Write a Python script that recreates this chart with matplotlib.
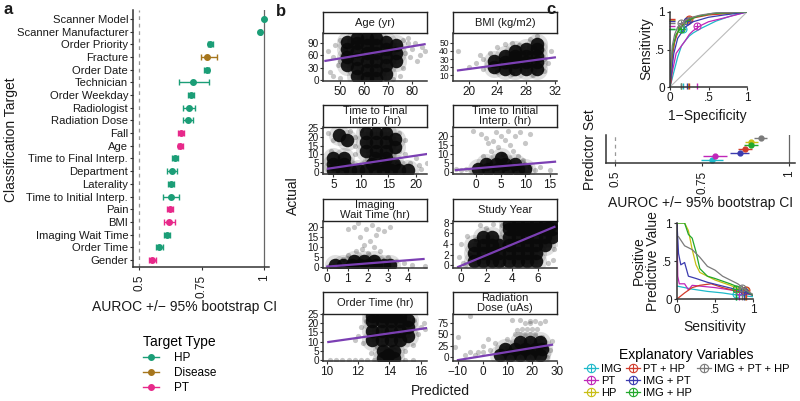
import numpy as np
import matplotlib.pyplot as plt
from matplotlib.lines import Line2D

plt.rcParams['font.family'] = ['Liberation Sans', 'DejaVu Sans']

# ================= data =================
# panel a: classification targets (top to bottom)
targets = ['Scanner Model', 'Scanner Manufacturer', 'Order Priority', 'Fracture', 'Order Date',
           'Technician', 'Order Weekday', 'Radiologist', 'Radiation Dose', 'Fall', 'Age',
           'Time to Final Interp.', 'Department', 'Laterality', 'Time to Initial Interp.',
           'Pain', 'BMI', 'Imaging Wait Time', 'Order Time', 'Gender']
target_type = ['HP', 'HP', 'HP', 'Disease', 'HP', 'HP', 'HP', 'HP', 'HP', 'PT', 'PT',
               'HP', 'HP', 'HP', 'HP', 'PT', 'PT', 'HP', 'HP', 'PT']
auroc = [1.0, 0.984, 0.784, 0.773, 0.771, 0.717, 0.707, 0.699, 0.695, 0.668, 0.665,
         0.645, 0.632, 0.627, 0.627, 0.624, 0.619, 0.612, 0.581, 0.552]
ci_low = [0.999, 0.982, 0.774, 0.746, 0.761, 0.660, 0.697, 0.675, 0.675, 0.656, 0.655,
          0.633, 0.611, 0.617, 0.596, 0.612, 0.598, 0.600, 0.568, 0.539]
ci_high = [1.0, 0.986, 0.794, 0.813, 0.781, 0.781, 0.718, 0.724, 0.717, 0.680, 0.675,
           0.657, 0.653, 0.638, 0.660, 0.636, 0.642, 0.623, 0.594, 0.566]
type_names = ['HP', 'Disease', 'PT']
type_colors = {'HP': '#1B9E77', 'Disease': '#A6761D', 'PT': '#E7298A'}

# panel b: regression facets (dense core of each cloud + scattered points)
facet_titles = ['Age (yr)', 'BMI (kg/m2)', 'Time to Final\nInterp. (hr)', 'Time to Initial\nInterp. (hr)',
                'Imaging\nWait Time (hr)', 'Study Year', 'Order Time (hr)', 'Radiation\nDose (uAs)']

age_core_x = [53, 53, 53, 53, 57, 57, 57, 57, 57, 57, 61, 61, 61, 61, 61, 61,
              65, 65, 65, 65, 65, 65, 69, 69, 69, 69, 69, 73, 73, 73]
age_core_y = [35, 55, 75, 92, 10, 30, 50, 70, 90, 102, 5, 25, 45, 65, 85, 102,
              5, 25, 45, 65, 85, 100, 15, 35, 55, 75, 92, 45, 65, 85]
age_x = [45, 46, 47, 48, 49, 50, 50, 51, 52, 76, 77, 78, 79, 80, 81, 82, 84, 85, 76, 75, 72, 78, 50, 47, 83]
age_y = [70, 20, 55, 85, 35, 95, 5, 60, 75, 95, 65, 88, 55, 75, 90, 45, 80, 70, 30, 10, 3, 100, 45, 10, 60]
age_fit_x = [44, 85]
age_fit_y = [46, 86]

bmi_core_x = [23.5, 23.5, 25, 25, 25, 26.5, 26.5, 26.5, 26.5, 28, 28, 28, 28,
              29.5, 29.5, 29.5, 29.5, 29.5]
bmi_core_y = [20, 28, 18, 26, 34, 18, 26, 34, 40, 18, 26, 34, 42, 18, 26, 34, 42, 48]
bmi_x = [18.5, 20, 21, 22, 22, 23, 24, 25, 26, 27, 28.5, 29.5, 30.5, 31, 31.5, 30.5, 29, 26, 24, 21.5]
bmi_y = [40, 20, 25, 30, 18, 38, 45, 48, 50, 47, 55, 58, 30, 25, 40, 15, 10, 12, 14, 35]
bmi_fit_x = [18.5, 32]
bmi_fit_y = [16, 32]

final_core_x = [5, 6.5, 8, 9.5, 11, 12.5, 14, 15.5, 17, 18.5, 5, 7, 12, 14, 16, 5, 7, 6, 7.5,
                11, 11, 11, 12.8, 12.8, 12.8, 14.6, 14.6, 14.6, 16.2, 16.2, 12.5, 14.5]
final_core_y = [1.5, 1.5, 1.5, 1.5, 1.5, 1.5, 1.5, 1.5, 1.5, 1.5, 4.5, 4.5, 4.5, 4.5, 4.5, 8, 8, 21, 18,
                12, 17, 22, 12, 17, 22, 12, 17, 22, 14, 19, 8, 8]
final_x = [4, 5, 8, 9, 9, 9, 17, 18, 18, 19, 20, 21, 22, 17, 4.5, 10, 16.5, 20.5]
final_y = [22, 18, 23, 20, 15, 10, 22, 18, 10, 5, 8, 2, 5, 12, 12, 24, 5, 4]
final_fit_x = [4, 22.5]
final_fit_y = [2, 10.5]

initial_core_x = [0.5, 2.5, 4.5, 6.5, 8.5, 10, 2, 4, 6, 8, 5]
initial_core_y = [1.5, 1.5, 1.5, 1.5, 1.5, 1.5, 4.5, 4.5, 4.5, 4.5, 8]
initial_x = [-4, -3, -2, -1, -0.5, 1, 2, 3, 3.5, 4, 4.5, 5, 5.5, 6, 6.5, 7, 7.5, 8, 9, 10,
             8.5, 11, 12, 13, 15, 1.5, 2.5, 9.5, 11, 2.5]
initial_y = [1.5, 1, 2, 1, 23, 21, 19, 12, 17, 22, 14, 20, 10, 18, 23, 15, 12, 20, 22, 16,
             9, 3, 1, 3, 1, 9, 6, 7, 21, 16]
initial_fit_x = [-4, 16]
initial_fit_y = [1.2, 5.8]

wait_core_x = [0.4, 0.8, 1.2, 1.6, 2.0, 2.4, 2.8, 3.1, 1.3, 1.8, 2.3]
wait_core_y = [0.8, 0.8, 0.8, 0.8, 0.8, 0.8, 0.8, 0.8, 3, 3, 3]
wait_x = [1, 1.3, 1.5, 1.9, 2.2, 2.5, 2.8, 3.1, 1.6, 2.1, 2.3, 1.8, 2.6, 1.4, 1, 0.8, 3, 3.4,
          3.8, 4.2, 4.8, 0.1, 2, 1.7, 2.4]
wait_y = [19, 20, 22, 19, 21, 19, 18, 20, 15, 13, 10, 11, 8, 8, 6, 4, 5, 3, 2, 1, 0.5, 0.5, 7, 9, 16]
wait_fit_x = [0, 4.75]
wait_fit_y = [0, 3.8]

year_core_x = [1.0, 1.0, 1.0, 1.7, 1.7, 1.7, 1.7, 2.4, 2.4, 2.4, 2.4, 3.0, 3.0, 3.0,
               3.8, 3.8, 3.8, 3.8, 3.8, 3.8, 4.5, 4.5, 4.5, 4.5, 4.5, 4.5,
               5.2, 5.2, 5.2, 5.2, 5.2, 5.2, 5.9, 5.9, 5.9, 5.9, 5.9, 5.9,
               6.6, 6.6, 6.6, 6.6, 7.1, 7.1, 7.1]
year_core_y = [0.8, 2.3, 3.8, 0.8, 2.3, 3.8, 5.3, 0.8, 2.3, 3.8, 5.3, 0.8, 2.3, 3.8,
               0.8, 2.3, 3.8, 5.3, 6.8, 7.8, 0.8, 2.3, 3.8, 5.3, 6.8, 7.8,
               0.8, 2.3, 3.8, 5.3, 6.8, 7.8, 0.8, 2.3, 3.8, 5.3, 6.8, 7.8,
               3.8, 5.3, 6.8, 7.8, 5.3, 6.8, 7.8]
year_x = [-0.1, 0, 0.3, 0.5, 0.7, 1.2, 1.5, 2, 2.5, 3.2, 3.4, 3.3, 7.3, 7.2, 6.8, 0.2]
year_y = [1.5, 4, 0, 5.5, 2, 5, 7.5, 7, 7.8, 7.5, 4, 0, 3, 1, 0.5, 0.5]
year_fit_x = [-0.2, 7.3]
year_fit_y = [-0.3, 7.2]

order_core_x = [12.9, 12.9, 12.9, 12.9, 13.5, 13.5, 13.5, 13.5, 14.1, 14.1, 14.1, 14.1,
                14.7, 14.7, 14.7, 14.7, 15.2, 15.2, 15.2, 13.6, 14.3, 13.6, 14.3, 13.9]
order_core_y = [11, 16, 21, 24, 11, 16, 21, 24, 11, 16, 21, 24, 11, 16, 21, 24, 13, 18, 22, 1, 1, 5, 5, 3]
order_x = [10.2, 10.6, 11, 11.4, 11.8, 12.2, 12.6, 13, 15, 15.5, 12, 12.2, 12.3, 11.8, 15.6,
           15.8, 16, 16.3, 15.5, 15, 12.8, 13.2, 12.5, 16.2]
order_y = [0, 0, 0, 0, 0, 0, 0, 0, 0, 0, 13, 18, 9, 11, 22, 14, 18, 17, 8, 5, 4, 7, 21, 20]
order_fit_x = [10.1, 16.5]
order_fit_y = [9.8, 17.5]

dose_core_x = [7, 11, 15, 19, 23, 9, 13, 17, 21, 24, 15, 19, 23]
dose_core_y = [4, 4, 4, 4, 4, 18, 18, 18, 18, 18, 32, 32, 32]
dose_x = [13, 15, 17, 19, 21, 16, 18, 20, 22, 17, 19, 21, 19, 23, 14, 10, 5, 3, 0, -3, -5, -7,
          -10, -11, -5, 25, 27, 28, 26, 24, 12, 15, 25, 2, 0, -2]
dose_y = [50, 50, 50, 50, 50, 62, 62, 62, 62, 75, 75, 80, 80, 75, 60, 40, 30, 15, 10, 5, 10, 5,
          45, 22, 90, 25, 15, 35, 0, 45, 82, 82, 80, 40, 25, 12]
dose_fit_x = [-10, 28]
dose_fit_y = [-7, 27]

facet_core = [(age_core_x, age_core_y), (bmi_core_x, bmi_core_y), (final_core_x, final_core_y),
              (initial_core_x, initial_core_y), (wait_core_x, wait_core_y), (year_core_x, year_core_y),
              (order_core_x, order_core_y), (dose_core_x, dose_core_y)]
facet_pts = [(age_x, age_y), (bmi_x, bmi_y), (final_x, final_y), (initial_x, initial_y),
             (wait_x, wait_y), (year_x, year_y), (order_x, order_y), (dose_x, dose_y)]
facet_fit = [(age_fit_x, age_fit_y), (bmi_fit_x, bmi_fit_y), (final_fit_x, final_fit_y),
             (initial_fit_x, initial_fit_y), (wait_fit_x, wait_fit_y), (year_fit_x, year_fit_y),
             (order_fit_x, order_fit_y), (dose_fit_x, dose_fit_y)]
facet_xlim = [(43, 86), (17.8, 32.3), (3.1, 22), (-4.6, 16.4), (-0.21, 4.92), (-0.6, 7.5), (9.76, 16.4), (-12, 30)]
facet_ylim = [(-2.4, 113), (3, 62), (-1, 25.5), (-1, 25), (-0.7, 22.8), (-0.5, 8.3), (-0.5, 25), (-9, 95)]
facet_xticks = [[50, 60, 70, 80], [20, 24, 28, 32], [5, 10, 15, 20], [0, 5, 10, 15],
                [0, 1, 2, 3, 4], [0, 2, 4, 6], [10, 12, 14, 16], [-10, 0, 10, 20, 30]]
facet_yticks = [[0, 30, 60, 90], [10, 20, 30, 40, 50], [0, 5, 10, 15, 20, 25], [0, 5, 10, 15, 20],
                [0, 5, 10, 15, 20], [0, 2, 4, 6, 8], [0, 5, 10, 15, 20, 25], [0, 25, 50, 75]]

# panel c: predictor sets
sets = ['IMG', 'PT', 'HP', 'PT + HP', 'IMG + PT', 'IMG + HP', 'IMG + PT + HP']
set_colors = ['#1EB9C9', '#C026B8', '#C8BE14', '#D13B2B', '#3B3BAF', '#22A82B', '#7A7A7A']
set_auroc = [0.778, 0.787, 0.892, 0.874, 0.858, 0.890, 0.918]
set_ci_low = [0.746, 0.752, 0.872, 0.854, 0.830, 0.870, 0.899]
set_ci_high = [0.810, 0.822, 0.912, 0.894, 0.886, 0.910, 0.937]
set_rank = [1, 2, 6, 4, 3, 5, 7]

roc_fpr = [
    [0, 0.05, 0.1, 0.15, 0.2, 0.25, 0.3, 0.4, 0.5, 0.6, 0.8, 1],
    [0, 0.02, 0.05, 0.08, 0.15, 0.2, 0.25, 0.3, 0.4, 0.5, 0.7, 1],
    [0, 0.01, 0.04, 0.08, 0.14, 0.2, 0.3, 0.5, 1],
    [0, 0.02, 0.03, 0.06, 0.12, 0.2, 0.3, 0.5, 1],
    [0, 0.02, 0.05, 0.1, 0.2, 0.3, 0.5, 0.7, 1],
    [0, 0.01, 0.04, 0.08, 0.14, 0.22, 0.35, 0.55, 1],
    [0, 0.01, 0.03, 0.06, 0.1, 0.15, 0.25, 0.4, 0.6, 1],
]
roc_tpr = [
    [0, 0.2, 0.4, 0.55, 0.62, 0.68, 0.72, 0.78, 0.83, 0.88, 0.95, 1],
    [0, 0.15, 0.3, 0.45, 0.55, 0.62, 0.7, 0.75, 0.82, 0.87, 0.92, 1],
    [0, 0.25, 0.5, 0.7, 0.8, 0.87, 0.93, 0.97, 1],
    [0, 0.1, 0.4, 0.6, 0.78, 0.87, 0.92, 0.96, 1],
    [0, 0.2, 0.45, 0.65, 0.8, 0.87, 0.93, 0.96, 1],
    [0, 0.3, 0.55, 0.7, 0.79, 0.88, 0.94, 0.98, 1],
    [0, 0.3, 0.55, 0.7, 0.8, 0.85, 0.92, 0.96, 0.99, 1],
]
op_fpr = [0.17, 0.35, 0.24, 0.25, 0.22, 0.14, 0.14]
op_tpr = [0.78, 0.81, 0.90, 0.91, 0.88, 0.77, 0.85]

pr_recall = [
    [0, 0.1, 0.2, 0.4, 0.6, 0.8, 0.9, 1],
    [0, 0.01, 0.03, 0.1, 0.15, 0.2, 0.3, 0.5, 0.7, 0.9, 1],
    [0.02, 0.1, 0.15, 0.2, 0.25, 0.3, 0.5, 0.7, 0.9, 1],
    [0, 0.1, 0.2, 0.3, 0.45, 0.6, 0.8, 1],
    [0, 0.02, 0.05, 0.1, 0.15, 0.25, 0.4, 0.6, 0.8, 1],
    [0, 0.1, 0.15, 0.2, 0.25, 0.3, 0.4, 0.5, 0.7, 0.9, 1],
    [0.02, 0.1, 0.2, 0.3, 0.4, 0.5, 0.6, 0.7, 0.8, 0.9, 1],
]
pr_precision = [
    [0.17, 0.15, 0.13, 0.1, 0.08, 0.05, 0.04, 0.03],
    [1.0, 0.3, 0.2, 0.2, 0.12, 0.18, 0.17, 0.15, 0.12, 0.08, 0.05],
    [1.0, 1.0, 0.9, 0.65, 0.45, 0.35, 0.25, 0.18, 0.1, 0.05],
    [0, 0.08, 0.15, 0.18, 0.2, 0.15, 0.1, 0.05],
    [1.0, 0.6, 0.45, 0.48, 0.3, 0.27, 0.22, 0.17, 0.12, 0.05],
    [1.0, 1.0, 0.85, 0.8, 0.62, 0.4, 0.3, 0.27, 0.2, 0.12, 0.05],
    [0.82, 0.7, 0.65, 0.55, 0.43, 0.38, 0.3, 0.25, 0.2, 0.12, 0.06],
]
op_ppv = [0.07, 0.10, 0.12, 0.12, 0.10, 0.13, 0.15]

# ================= layout helpers =================
W, H = 800, 401
fig = plt.figure(figsize=(W / 100, H / 100), dpi=100)
TXT = '#1a1a1a'
AXC = '#333333'


def add_ax(x0, y0, x1, y1):
    return fig.add_axes([x0 / W, 1 - y1 / H, (x1 - x0) / W, (y1 - y0) / H])


def ftext(x, y, s, **kw):
    kw.setdefault('ha', 'center')
    kw.setdefault('va', 'center')
    kw.setdefault('color', TXT)
    fig.text(x / W, 1 - y / H, s, **kw)


def classic(ax, size=8.5):
    for s in ['top', 'right']:
        ax.spines[s].set_visible(False)
    for s in ['left', 'bottom']:
        ax.spines[s].set_color(AXC)
        ax.spines[s].set_linewidth(1.1)
    ax.tick_params(length=2.5, width=0.8, labelsize=size, pad=1, colors=AXC, labelcolor=TXT)
    ax.patch.set_alpha(0)


# ================= panel a =================
ax = add_ax(133, 10, 269, 267)
classic(ax, 8.1)
n = len(targets)
ypos = np.arange(n, 0, -1)
ax.axvline(0.5, color='#999999', ls=(0, (3, 3)), lw=0.9)
ax.axvline(1.0, color='#666666', lw=0.9)
for i in range(n):
    c = type_colors[target_type[i]]
    ax.errorbar(auroc[i], ypos[i], xerr=[[auroc[i] - ci_low[i]], [ci_high[i] - auroc[i]]],
                fmt='o', color=c, ms=4, capsize=2, elinewidth=1, capthick=1)
ax.set_yticks(ypos)
ax.set_yticklabels(targets)
ax.set_ylim(0.45, 20.7)
ax.set_xlim(0.475, 1.02)
ax.set_xticks([0.5, 0.75, 1.0])
ax.set_xticklabels(['0.5', '0.75', '1'], rotation=90)
ax.tick_params(axis='x', labelsize=8.5, pad=3)
ftext(4, 10, 'a', fontsize=12, fontweight='bold', ha='left')
ftext(11, 140, 'Classification Target', fontsize=10, rotation=90)
ftext(185, 307, 'AUROC +/\u2212 95% bootstrap CI', fontsize=10)

type_handles = [Line2D([], [], color=type_colors[t], marker='o', ms=4, lw=1) for t in type_names]
fig.legend(type_handles, type_names, loc='upper left', bbox_to_anchor=(137 / W, 1 - 329 / H),
           frameon=False, title='Target Type', fontsize=8.5, title_fontsize=10,
           handlelength=1.4, handletextpad=1.2, labelspacing=0.25, borderpad=0)

# ================= panel b =================
col_x = [(323, 427), (453, 557)]
row_y = [(12, 33, 81), (105, 127, 174), (199, 221, 268), (292, 314, 361)]
for k in range(8):
    r, c = divmod(k, 2)
    x0, x1 = col_x[c]
    s0, p0, p1 = row_y[r]
    st = add_ax(x0, s0, x1, p0)
    st.set_xticks([])
    st.set_yticks([])
    for sp in st.spines.values():
        sp.set_color('#222222')
        sp.set_linewidth(1)
    st.text(0.5, 0.5, facet_titles[k], ha='center', va='center', fontsize=8, color=TXT,
            transform=st.transAxes, linespacing=0.95)
    ax = add_ax(x0, p0, x1, p1)
    classic(ax)
    cx, cy = facet_core[k]
    ax.scatter(cx, cy, s=230, color='black', alpha=0.12, linewidths=0)
    ax.scatter(cx, cy, s=95, color='#0a0a0a', alpha=0.92, linewidths=0)
    px, py = facet_pts[k]
    ax.scatter(px, py, s=14, color='black', alpha=0.22, linewidths=0)
    fx, fy = facet_fit[k]
    ax.plot(fx, fy, color='#7B3FB3', lw=1.6)
    ax.set_xlim(*facet_xlim[k])
    ax.set_ylim(*facet_ylim[k])
    ax.set_xticks(facet_xticks[k])
    ax.set_yticks(facet_yticks[k])
    ax.tick_params(axis='y', labelsize=6.2 if k == 1 else 7.2, pad=0.5)
ftext(276, 12, 'b', fontsize=12, fontweight='bold', ha='left')
ftext(293, 196, 'Actual', fontsize=10, rotation=90)
ftext(440, 391, 'Predicted', fontsize=10)

# ================= panel c =================
ftext(546, 10, 'c', fontsize=12, fontweight='bold', ha='left')

# ROC
ax = add_ax(670, 12, 747, 87)
classic(ax)
ax.plot([0, 1], [0, 1], color='#bbbbbb', lw=0.8)
for i in range(len(sets)):
    ax.plot(roc_fpr[i], roc_tpr[i], color=set_colors[i], lw=0.9)
    ax.plot(op_fpr[i], op_tpr[i], marker='o', mfc='none', mec=set_colors[i], ms=5, mew=0.8)
    ax.plot(op_fpr[i], op_tpr[i], marker='+', color=set_colors[i], ms=5, mew=0.8)
    ax.plot(op_fpr[i], 0.02, marker='|', color=set_colors[i], ms=4, clip_on=False)
    ax.plot(0.02, op_tpr[i], marker='_', color=set_colors[i], ms=4, clip_on=False)
ax.set_xlim(0, 1)
ax.set_ylim(0, 1)
ax.set_xticks([0, 0.5, 1])
ax.set_xticklabels(['0', '.5', '1'])
ax.set_yticks([0, 0.5, 1])
ax.set_yticklabels(['0', '.5', '1'])
ftext(646, 49, 'Sensitivity', fontsize=10, rotation=90)
ftext(707, 116, '1\u2212Specificity', fontsize=10)

# AUROC per predictor set
ax = add_ax(606, 135, 795, 163)
classic(ax)
ax.axvline(0.5, color='#999999', ls=(0, (3, 3)), lw=0.9)
ax.axvline(1.0, color='#666666', lw=0.9)
for i in range(len(sets)):
    ax.errorbar(set_auroc[i], set_rank[i],
                xerr=[[set_auroc[i] - set_ci_low[i]], [set_ci_high[i] - set_auroc[i]]],
                fmt='o', color=set_colors[i], ms=3.5, elinewidth=1, capsize=0)
ax.set_ylim(0.2, 7.8)
ax.set_yticks([])
ax.set_xlim(0.474, 1.017)
ax.set_xticks([0.5, 0.75, 1.0])
ax.set_xticklabels(['0.5', '0.75', '1'], rotation=90)
ax.tick_params(axis='x', labelsize=8.5, pad=3)
ftext(590, 150, 'Predictor Set', fontsize=10, rotation=90)
ftext(701, 203, 'AUROC +/\u2212 95% bootstrap CI', fontsize=10)

# PPV vs sensitivity
ax = add_ax(677, 223, 753, 299)
classic(ax)
for i in range(len(sets)):
    ax.plot(pr_recall[i], pr_precision[i], color=set_colors[i], lw=0.9)
    ax.plot(op_tpr[i], op_ppv[i], marker='o', mfc='none', mec=set_colors[i], ms=5, mew=0.8)
    ax.plot(op_tpr[i], op_ppv[i], marker='+', color=set_colors[i], ms=5, mew=0.8)
    ax.plot(op_tpr[i], 0.02, marker='|', color=set_colors[i], ms=4, clip_on=False)
ax.set_xlim(0, 1)
ax.set_ylim(0, 1)
ax.set_xticks([0, 0.5, 1])
ax.set_xticklabels(['0', '.5', '1'])
ax.set_yticks([0, 0.5, 1])
ax.set_yticklabels(['0', '.5', '1'])
ftext(646, 261, 'Positive\nPredictive Value', fontsize=10, rotation=90, linespacing=0.95)
ftext(715, 327, 'Sensitivity', fontsize=10)

handles, labels = [], []
for i in range(len(sets)):
    h1 = Line2D([], [], color=set_colors[i], lw=0.9, marker='o', mfc='none', ms=6, mew=0.8)
    h2 = Line2D([], [], color=set_colors[i], lw=0, marker='+', ms=6, mew=0.8)
    handles.append((h1, h2))
    labels.append(sets[i])
for _ in range(2):
    handles.append(Line2D([], [], alpha=0))
    labels.append('')
fig.legend(handles, labels, loc='upper left', bbox_to_anchor=(578 / W, 1 - 342 / H), ncol=3,
           frameon=False, title='Explanatory Variables', fontsize=8, title_fontsize=10,
           handlelength=1.3, handletextpad=0.25, labelspacing=0.2, columnspacing=0.4, borderpad=0)

fig.savefig('out.png', dpi=100)
